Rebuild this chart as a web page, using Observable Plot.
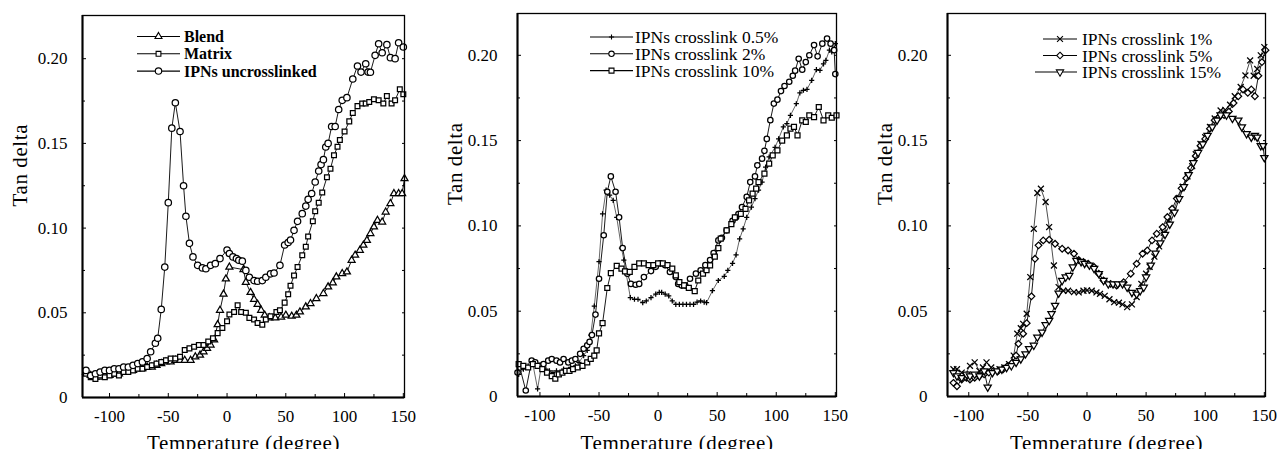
<!DOCTYPE html>
<html><head><meta charset="utf-8">
<script src="https://cdn.jsdelivr.net/npm/d3@7"></script>
<script src="https://cdn.jsdelivr.net/npm/@observablehq/plot@0.6"></script>
<style>
html,body{margin:0;padding:0;background:#fff;}
#wrap{position:relative;width:1281px;height:449px;overflow:hidden;background:#fff;}
.panel{position:absolute;top:0;}
</style></head><body><div id="wrap"></div>
<script>
// ---------- DATA (temperature °C, tan delta) ----------
const blend = [[-120,.015],[-116,.013],[-112,.012],[-108,.012],[-104,.013],[-100,.013],[-96,.014],[-92,.014],[-88,.015],[-84,.016],[-80,.016],[-76,.017],[-72,.017],[-68,.018],[-64,.018],[-60,.019],[-56,.020],[-52,.021],[-48,.021],[-44,.022],[-40,.022],[-36,.022],[-31,.022],[-27,.024],[-23,.025],[-20,.027],[-17,.029],[-14,.031],[-11,.034],[-8,.043],[-6,.0515],[-3,.061],[-1,.070],[2,.077],[14,.0755],[16,.068],[20,.062],[23,.058],[26,.055],[29,.0515],[32,.0486],[36,.047],[41,.047],[46,.0475],[50,.0486],[55,.048],[59,.0486],[62,.0505],[67,.0535],[71,.0555],[76,.0584],[82,.0614],[86,.0653],[90,.0677],[93,.0712],[98,.0732],[102,.0741],[106,.081],[109,.084],[113,.0869],[116,.0899],[119,.0928],[122,.0968],[125,.1007],[128,.1046],[132,.1036],[135,.1095],[139,.1145],[142,.1204],[146,.1204],[149,.1204],[151,.1292]];
const matrix = [[-120,.014],[-116,.012],[-112,.011],[-108,.013],[-104,.012],[-100,.013],[-96,.014],[-92,.013],[-88,.015],[-84,.015],[-80,.016],[-76,.017],[-72,.017],[-68,.018],[-64,.019],[-60,.020],[-56,.021],[-52,.022],[-48,.023],[-44,.023],[-40,.024],[-36,.028],[-32,.029],[-28,.030],[-24,.031],[-20,.031],[-16,.033],[-12,.035],[-8,.038],[-4,.041],[0,.045],[2,.049],[6,.0505],[9,.0545],[12,.0505],[16,.050],[19,.047],[23,.046],[26,.044],[30,.043],[33,.046],[37,.048],[42,.0505],[45,.0515],[49,.056],[52,.061],[54,.066],[57,.072],[60,.077],[64,.084],[67,.089],[69,.095],[73,.104],[75,.110],[78,.115],[81,.121],[85,.130],[88,.135],[91,.143],[94,.148],[96,.152],[100,.157],[104,.163],[107,.168],[111,.172],[115,.1735],[118,.1735],[121,.1745],[125,.176],[129,.1755],[133,.1735],[136,.178],[140,.1735],[143,.1755],[147,.182],[150,.179]];
const uncrosslinked = [[-120,.016],[-116,.013],[-112,.014],[-108,.015],[-104,.016],[-100,.016],[-96,.017],[-92,.017],[-88,.018],[-84,.018],[-80,.019],[-76,.020],[-72,.021],[-68,.023],[-65,.027],[-61,.032],[-59,.035],[-56,.052],[-53,.077],[-50,.115],[-47,.159],[-44,.174],[-40,.157],[-37,.125],[-35,.107],[-32,.091],[-29,.083],[-25,.078],[-21,.0765],[-18,.076],[-14,.078],[-10,.079],[-6,.082],[0,.087],[2,.085],[5,.083],[8,.082],[10,.081],[13,.0805],[16,.075],[19,.071],[23,.069],[26,.0686],[30,.069],[33,.071],[37,.073],[40,.0735],[45,.078],[49,.090],[52,.0915],[54,.093],[57,.0987],[60,.104],[64,.1085],[67,.113],[69,.117],[72,.1204],[75,.1272],[78,.1337],[80,.1375],[82,.1404],[84,.1479],[86,.150],[89,.160],[92,.160],[95,.170],[98,.1754],[102,.177],[107,.188],[111,.1957],[114,.1921],[118,.197],[120,.1921],[122,.192],[126,.202],[129,.2088],[132,.2035],[136,.2083],[139,.2006],[143,.200],[146,.2094],[150,.2069]];

const xl05 = [[-118,.013],[-114,.016],[-110,.018],[-106,.019],[-102,.0045],[-99,.017],[-95,.016],[-92,.015],[-89,.014],[-86,.015],[-83,.014],[-80,.016],[-77,.015],[-74,.017],[-70,.018],[-67,.020],[-63,.024],[-60,.027],[-57,.036],[-54,.053],[-50,.079],[-47,.107],[-44,.121],[-41,.118],[-38,.115],[-35,.105],[-31,.087],[-29,.080],[-23.5,.058],[-20,.057],[-17,.057],[-13,.055],[-10,.056],[-6,.058],[-2,.060],[1,.061],[3,.061],[6,.060],[9,.059],[12,.056],[15,.054],[18,.054],[21,.054],[24,.054],[27,.054],[30,.054],[33,.0553],[36,.056],[39,.0553],[41,.055],[46,.062],[51,.068],[56,.0704],[59,.0739],[63,.078],[66,.083],[69,.0924],[72,.0983],[75,.105],[79,.111],[82,.116],[85,.121],[88,.1257],[91,.1345],[94,.1404],[99,.146],[102,.151],[106,.158],[109,.160],[112,.1648],[117,.1716],[120,.178],[123,.1795],[126,.180],[130,.1853],[134,.1916],[137,.1912],[140,.195],[142,.197],[145,.203],[147,.202],[149,.204],[150,.2068]];
const xl2 = [[-119,.014],[-117,.017],[-112,.0035],[-107,.021],[-104,.020],[-100,.018],[-97,.019],[-93,.021],[-90,.022],[-86,.021],[-83,.020],[-80,.022],[-76,.020],[-73,.021],[-70,.022],[-66,.025],[-63,.028],[-60,.030],[-58,.032],[-56,.036],[-53,.048],[-50,.069],[-46,.0945],[-43,.120],[-40,.129],[-36,.120],[-33,.105],[-30,.087],[-26,.072],[-23,.066],[-19,.0655],[-16,.066],[-12,.070],[-6,.0735],[-2,.076],[2,.078],[6,.077],[10,.073],[15,.070],[17,.066],[20,.065],[23,.065],[27,.069],[32,.072],[36,.074],[40,.077],[44,.080],[47,.084],[51,.0915],[54,.093],[58,.0974],[63,.103],[66,.105],[68,.107],[71,.111],[75,.117],[78,.1257],[82,.129],[84,.1355],[88,.1394],[90,.144],[92,.151],[95,.162],[98,.1717],[101,.174],[104,.179],[107,.182],[111,.1845],[114,.188],[116,.191],[119,.198],[122,.1916],[125,.196],[128,.200],[132,.206],[135,.1994],[139,.2068],[143,.2098],[146,.2068],[149,.203],[150,.189]];
const xl10 = [[-118,.019],[-114,.018],[-110,.017],[-106,.019],[-102,.018],[-98,.016],[-94,.014],[-90,.012],[-87,.0104],[-84,.013],[-81,.014],[-78,.015],[-75,.015],[-72,.016],[-68,.017],[-64,.018],[-60,.020],[-57,.022],[-54,.024],[-52,.027],[-50,.037],[-47,.043],[-43,.0636],[-40,.0723],[-35,.0766],[-31,.075],[-28,.0733],[-24,.073],[-20,.076],[-16,.078],[-12,.078],[-8,.077],[-4,.077],[0,.078],[4,.078],[8,.077],[12,.075],[15,.071],[18,.067],[22,.0651],[26,.0637],[31,.0618],[34,.068],[38,.072],[41,.074],[44,.0768],[48,.082],[51,.087],[53,.0925],[58,.0974],[62,.101],[65,.105],[70,.1071],[74,.110],[77,.115],[80,.1189],[83,.1218],[85,.1257],[90,.1306],[94,.1365],[97,.1413],[101,.1443],[105,.150],[109,.1531],[112,.157],[115,.158],[118,.1531],[122,.1619],[125,.1609],[128,.1648],[132,.1638],[136,.1697],[140,.1619],[144,.1648],[147,.1634],[151,.1648]];

const xl1 = [[-113,.016],[-110,.016],[-106,.014],[-103,.013],[-99,.018],[-95,.020],[-91,.015],[-88,.017],[-85,.020],[-81,.017],[-77,.015],[-74,.016],[-70,.017],[-66,.019],[-62,.024],[-59,.0368],[-56,.040],[-54,.0426],[-51,.0485],[-48,.070],[-45,.0983],[-42,.1193],[-39,.1218],[-35,.114],[-32,.0993],[-28,.0768],[-24,.0641],[-20,.062],[-16,.062],[-11,.0612],[-7,.061],[-3,.062],[0,.0622],[4,.062],[8,.061],[11,.0602],[15,.059],[19,.057],[23,.0553],[27,.055],[30,.054],[34,.0524],[38,.054],[42,.0583],[46,.066],[50,.072],[53,.076],[57,.082],[61,.088],[65,.096],[69,.103],[73,.109],[77,.116],[81,.123],[85,.129],[89,.135],[92,.142],[96,.148],[100,.152],[104,.158],[108,.163],[113,.1677],[117,.168],[121,.171],[125,.176],[130,.1814],[134,.1882],[138,.197],[141,.188],[144,.192],[147,.200],[150,.2048]];
const xl5 = [[-113,.008],[-110,.006],[-106,.010],[-102,.011],[-99,.010],[-95,.011],[-91,.012],[-87,.013],[-83,.014],[-79,.015],[-75,.015],[-71,.016],[-67,.018],[-63,.020],[-60,.024],[-58,.0309],[-54,.0368],[-51,.043],[-47,.0587],[-44,.0807],[-41,.0886],[-37,.0915],[-32,.0919],[-27,.0895],[-21,.0866],[-16,.0856],[-11,.0837],[-7,.080],[-3,.0788],[1,.0778],[6,.0759],[10,.072],[14,.068],[20,.066],[25,.0651],[31,.067],[37,.072],[42,.0778],[47,.0837],[51,.0856],[55,.0915],[59,.0954],[64,.0993],[68,.1052],[72,.110],[76,.116],[80,.122],[84,.128],[88,.134],[92,.141],[96,.147],[100,.151],[104,.157],[108,.162],[112,.164],[116,.165],[120,.167],[124,.172],[128,.176],[132,.180],[136,.178],[139,.180],[142,.176],[145,.188],[148,.196],[151,.203]];
const xl15 = [[-113,.014],[-110,.012],[-106,.011],[-102,.013],[-99,.012],[-95,.013],[-91,.012],[-87,.015],[-84,.0055],[-80,.014],[-76,.015],[-72,.016],[-68,.017],[-64,.018],[-60,.020],[-56,.022],[-52,.025],[-49,.028],[-45,.030],[-42,.0348],[-38,.0377],[-35,.042],[-32,.0446],[-30,.0485],[-27,.0534],[-24,.0606],[-21,.068],[-18,.070],[-15,.071],[-12,.0759],[-9,.0798],[-5,.079],[-2,.078],[2,.077],[6,.075],[10,.072],[14,.068],[18,.066],[22,.066],[26,.066],[30,.066],[34,.064],[38,.061],[42,.060],[45,.062],[48,.064],[50,.070],[54,.077],[58,.084],[62,.090],[66,.095],[70,.101],[74,.108],[78,.116],[82,.123],[86,.130],[90,.137],[94,.143],[98,.148],[102,.153],[106,.158],[110,.162],[113,.165],[118,.165],[123,.163],[128,.162],[131,.158],[135,.154],[139,.152],[142,.153],[144,.152],[147,.147],[149,.147],[150,.140]];

const labels1 = ["Blend", "Matrix", "IPNs uncrosslinked"];
const labels2 = ["IPNs crosslink 0.5%", "IPNs crosslink 2%", "IPNs crosslink 10%"];
const labels3 = ["IPNs crosslink 1%", "IPNs crosslink 5%", "IPNs crosslink 15%"];
const xTicks = [-100, -50, 0, 50, 100, 150];
const xMinor = [-75, -25, 25, 75, 125];
const yTicks = [0, 0.05, 0.10, 0.15, 0.20];
const yMinor = [0.025, 0.075, 0.125, 0.175];
const xTitle = "Temperature (degree)";
const yTitle = "Tan delta";

// ---------- drawing ----------
const F = '"Liberation Serif","Times New Roman",Times,serif';
const triDown = {draw(ctx, size) {
  const s3 = Math.sqrt(3);
  const y = -Math.sqrt(size / (s3 * 3));
  ctx.moveTo(0, -y * 2); ctx.lineTo(-s3 * y, y); ctx.lineTo(s3 * y, y); ctx.closePath();
}};

function makePanel(cfg) {
  const {series, xDomain, yDomain, width, ml, mr, mt, mb, yPad} = cfg;
  const marks = [
    Plot.axisX(xTicks, {tickSize: -4, tickPadding: 16, fontSize: 17, label: null, tickFormat: d => String(d)}),
    Plot.axisX(xMinor, {tickSize: -3, tickFormat: () => "", label: null}),
    Plot.axisY(yTicks, {tickSize: -4, tickPadding: yPad, fontSize: 17, label: null, tickFormat: d => d === 0 ? "0" : d.toFixed(2)}),
    Plot.axisY(yMinor, {tickSize: -3, tickFormat: () => "", label: null}),
    Plot.axisY(yTicks.concat(yMinor).filter(d => d > 0), {anchor: "right", tickSize: -3, tickFormat: () => "", label: null})
  ];
  for (const s of series) {
    marks.push(Plot.line(s.data, {x: d => d[0], y: d => d[1], stroke: "black", strokeWidth: s.lw ?? 0.9}));
    marks.push(Plot.dot(s.data, {x: d => d[0], y: d => d[1], symbol: s.symbol, r: s.r, fill: "white", stroke: "black", strokeWidth: 1.25}));
  }
  marks.push(
    Plot.frame({stroke: "black", strokeWidth: 1.3}),
    Plot.ruleX([xDomain[0]], {stroke: "black", strokeWidth: 2}),
    Plot.ruleY([yDomain[0]], {stroke: "black", strokeWidth: 2}),
    Plot.text([yTitle], {text: d => d, frameAnchor: "left", dx: -62, rotate: -90, fontSize: 21, fill: "black"}),
    Plot.text([xTitle], {text: d => d, frameAnchor: "bottom", lineAnchor: "bottom", dy: mb, fontSize: 21, fill: "black"})
  );
  const svg = Plot.plot({
    width, height: 449,
    marginLeft: ml, marginRight: mr, marginTop: mt, marginBottom: mb,
    x: {domain: xDomain, axis: null},
    y: {domain: yDomain, axis: null},
    style: {fontFamily: F, fontSize: "17px", color: "black", background: "white", overflow: "visible"},
    marks
  });
  const S = d3.select(svg);
  S.selectAll('g[aria-label$="tick label"]').attr("font-size", 17).attr("fill", "black");
  S.selectAll('g[aria-label$="tick label"] text').attr("font-size", 17);
  S.selectAll("text").filter(function() {
    return this.textContent === xTitle || this.textContent === yTitle;
  }).attr("letter-spacing", "0.6").attr("font-size", 21);
  // legend
  const L = cfg.legend;
  const g = S.append("g").attr("text-anchor", "start");
  series.forEach((s, i) => {
    const y = L.y0 + i * L.dy;
    const x1 = (L.x1s ? L.x1s[i] : L.x1);
    g.append("line").attr("x1", x1).attr("x2", L.x2).attr("y1", y).attr("y2", y)
      .attr("stroke", "black").attr("stroke-width", 1.1);
    g.append("path").attr("transform", `translate(${(L.x1 + L.x2) / 2},${y})`)
      .attr("d", d3.symbol(s.symbol, Math.PI * s.r * s.r)())
      .attr("fill", "white").attr("stroke", "black").attr("stroke-width", 1.1);
    g.append("text").attr("x", L.tx).attr("y", y).attr("dy", "0.35em")
      .attr("text-anchor", "start")
      .attr("font-family", F).attr("font-size", L.fs).attr("font-weight", L.bold ? "bold" : "normal")
      .attr("fill", "black").text(s.label);
  });
  const div = document.createElement("div");
  div.className = "panel";
  div.style.left = cfg.left + "px";
  div.appendChild(svg);
  document.getElementById("wrap").appendChild(div);
}

makePanel({
  left: 0, width: 430, ml: 82, mr: 26, mt: 15, mb: 52, yPad: 19,
  xDomain: [-123, 151], yDomain: [0, 0.2255],
  series: [
    {data: blend, symbol: d3.symbolTriangle, r: 2.6, label: labels1[0]},
    {data: matrix, symbol: d3.symbolSquare, r: 2.7, label: labels1[1]},
    {data: uncrosslinked, symbol: d3.symbolCircle, r: 3.2, label: labels1[2]}
  ],
  legend: {x1: 137, x2: 180, tx: 184, y0: 36.5, dy: 17.3, fs: 16, bold: true}
});
makePanel({
  left: 430, width: 430, ml: 87, mr: 24, mt: 13, mb: 53, yPad: 24,
  xDomain: [-119, 151], yDomain: [0, 0.2245],
  series: [
    {data: xl05, symbol: d3.symbolPlus, r: 1.8, lw: 0.6, label: labels2[0]},
    {data: xl2, symbol: d3.symbolCircle, r: 2.7, label: labels2[1]},
    {data: xl10, symbol: d3.symbolSquare, r: 2.8, label: labels2[2]}
  ],
  legend: {x1: 160, x2: 203, tx: 205, y0: 37, dy: 16.8, fs: 17.5, bold: false}
});
makePanel({
  left: 860, width: 421, ml: 87, mr: 16, mt: 13, mb: 53, yPad: 24,
  xDomain: [-118, 151], yDomain: [0, 0.2245],
  series: [
    {data: xl1, symbol: d3.symbolTimes, r: 2.8, lw: 0.7, label: labels3[0]},
    {data: xl5, symbol: d3.symbolDiamond2, r: 3.0, label: labels3[1]},
    {data: xl15, symbol: triDown, r: 2.7, label: labels3[2]}
  ],
  legend: {x1: 183, x1s: [183, 183, 175], x2: 217, tx: 222, y0: 39, dy: 16.5, fs: 17.5, bold: false}
});
</script></body></html>
